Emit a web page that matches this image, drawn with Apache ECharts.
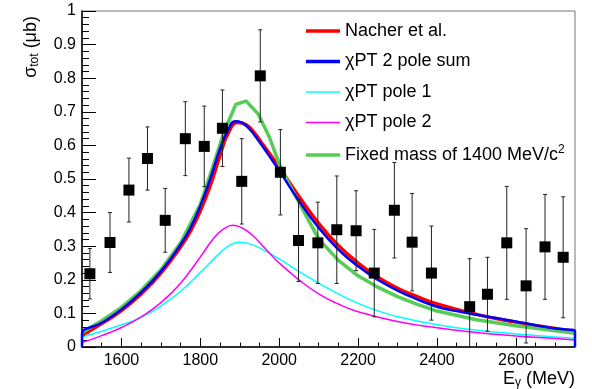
<!DOCTYPE html>
<html><head><meta charset="utf-8">
<script src="https://cdn.jsdelivr.net/npm/echarts@6/dist/echarts.min.js"></script>
<style>html,body{margin:0;padding:0;background:#fff}#c{width:592px;height:389px}</style>
</head><body><div id="c"></div>
<script>
// ---- data ----
const dataE   = [1520,1571,1619,1666,1711,1762,1810,1856,1905,1952,2003,2049,2098,2146,2195,2241,2292,2337,2386,2483,2528,2577,2626,2674,2720];
const dataY   = [0.218,0.311,0.467,0.561,0.377,0.620,0.597,0.651,0.493,0.807,0.520,0.317,0.310,0.349,0.346,0.220,0.407,0.312,0.220,0.120,0.157,0.310,0.182,0.298,0.267];
const dataErr = [0.075,0.089,0.095,0.094,0.095,0.110,0.120,0.114,0.127,0.137,0.127,0.122,0.121,0.160,0.119,0.130,0.142,0.145,0.140,0.143,0.110,0.168,0.170,0.156,0.180];

const nacherE = [1500,1550,1600,1650,1700,1750,1775,1800,1825,1850,1870,1895,1915,1935,1960,2000,2050,2100,2150,2200,2250,2300,2350,2400,2500,2600,2700,2750];
const nacherY = [0.035,0.070,0.108,0.158,0.220,0.298,0.345,0.405,0.480,0.570,0.635,0.668,0.662,0.640,0.600,0.535,0.448,0.368,0.302,0.250,0.208,0.175,0.150,0.128,0.097,0.074,0.055,0.046];

const sumE = [1500,1500,1550,1600,1650,1700,1750,1775,1800,1825,1850,1870,1889,1905,1925,1950,1975,2000,2050,2100,2150,2200,2250,2300,2350,2400,2450,2500,2550,2600,2650,2700,2750,2750];
const sumY = [0,0.038,0.072,0.112,0.163,0.225,0.305,0.355,0.420,0.500,0.590,0.645,0.672,0.668,0.648,0.610,0.568,0.525,0.435,0.355,0.290,0.240,0.200,0.168,0.142,0.120,0.107,0.096,0.086,0.076,0.065,0.055,0.046,0];

const pole1E = [1500,1550,1600,1650,1700,1750,1800,1850,1875,1899,1925,1950,2000,2050,2100,2150,2200,2250,2300,2400,2500,2600,2700,2750];
const pole1Y = [0.030,0.047,0.066,0.088,0.122,0.166,0.222,0.280,0.303,0.312,0.307,0.295,0.262,0.225,0.190,0.158,0.130,0.108,0.090,0.066,0.050,0.039,0.030,0.026];

const pole2E = [1500,1550,1600,1650,1700,1750,1800,1835,1860,1882,1905,1930,1967,2000,2050,2100,2150,2200,2300,2400,2500,2600,2700,2750];
const pole2Y = [0.013,0.034,0.058,0.090,0.132,0.190,0.268,0.325,0.352,0.362,0.355,0.335,0.290,0.250,0.200,0.158,0.128,0.105,0.076,0.057,0.043,0.033,0.025,0.021];

const fixedE = [1500,1550,1600,1650,1700,1750,1800,1830,1860,1890,1916,1947,1975,2000,2025,2050,2100,2150,2200,2250,2300,2350,2400,2500,2600,2700,2750];
const fixedY = [0.043,0.078,0.118,0.168,0.230,0.310,0.425,0.530,0.640,0.722,0.732,0.693,0.625,0.545,0.485,0.430,0.322,0.258,0.212,0.178,0.150,0.127,0.107,0.081,0.063,0.048,0.041];

const xMajorTicks = [1600,1800,2000,2200,2400,2600];
const legendNames = ['Nacher et al.','\u03c7PT 2 pole sum','\u03c7PT pole 1','\u03c7PT pole 2','Fixed mass of 1400 MeV/c{sup|2}'];

const zip = (a,b) => a.map((v,i)=>[v,b[i]]);
const FONT = 'Liberation Sans, Arial, Helvetica, sans-serif';

const chart = echarts.init(document.getElementById('c'), null, {renderer:'canvas'});
const grid = {left:82, right:17, top:11, bottom:42, show:true, borderColor:'#777', borderWidth:1};

function lineSeries(name, E, Y, color, width, z, smooth){
  return {name:name, type:'line', data:zip(E,Y), showSymbol:false, symbol:'none',
    smooth:smooth, lineStyle:{color:color,width:width,join:'round'}, itemStyle:{color:color}, z:z, silent:true, animation:false};
}
const thick = 'path://M0,0 L35,0 L35,3.5 L0,3.5 Z';
const thin  = 'path://M0,0 L35,0 L35,1.5 L0,1.5 Z';

chart.setOption({
  animation:false,
  grid: grid,
  xAxis: [
    {type:'value', min:1500, max:2750, position:'bottom',
     axisLine:{show:true,onZero:false,lineStyle:{color:'#000',width:1.5}},
     axisTick:{show:true,inside:true,length:9,customValues:xMajorTicks,lineStyle:{color:'#000',width:1}},
     axisLabel:{show:true,customValues:xMajorTicks,margin:6,fontSize:16,color:'#000',fontFamily:FONT,formatter:v=>String(v)},
     splitLine:{show:false}},
    {type:'value', min:1500, max:2750, interval:50, position:'bottom',
     axisLine:{show:false}, axisTick:{show:true,inside:true,length:4.5,lineStyle:{color:'#000'}},
     axisLabel:{show:false}, splitLine:{show:false}}
  ],
  yAxis: [{type:'value', min:0, max:1, interval:0.1,
     axisLine:{show:true,onZero:false,lineStyle:{color:'#000',width:1.5}},
     axisTick:{show:true,inside:true,length:14,lineStyle:{color:'#000'}},
     minorTick:{show:true,splitNumber:5,length:7,lineStyle:{color:'#000'}},
     axisLabel:{margin:6,fontSize:16,color:'#000',fontFamily:FONT,
       formatter:v=> (Math.abs(v)<1e-9?'0':(Math.abs(v-1)<1e-9?'1':v.toFixed(1)))},
     splitLine:{show:false}}],
  legend: {
    orient:'vertical', left:301, top:17, itemWidth:34, itemHeight:14, itemGap:12.5,
    textStyle:{fontSize:18,color:'#000',fontFamily:FONT, rich:{sup:{fontSize:12,verticalAlign:'top',padding:[0,0,10,0],fontFamily:FONT,color:'#000'}}},
    data: legendNames.map((n,i)=>({name:n, icon:(i===2||i===3)?thin:thick})),
    selectedMode:false
  },
  graphic: [
    {type:'text', x:31, y:16, rotation:Math.PI/2, z:100,
     style:{text:'\u03c3{s|tot} (\u03bcb)', font:'18px '+FONT, fill:'#000', align:'right', verticalAlign:'middle',
       rich:{s:{fontSize:12, fontFamily:FONT, fill:'#000', padding:[8,0,0,0]}}}},
    {type:'text', x:575, y:389, z:100,
     style:{text:'E{s|\u03b3} (MeV)', font:'18px '+FONT, fill:'#000', align:'right', verticalAlign:'bottom',
       rich:{s:{fontSize:12, fontFamily:FONT, fill:'#000', padding:[8,0,0,0]}}}}
  ],
  series: [
    lineSeries(legendNames[0], nacherE, nacherY, '#ff0000', 3.5, 3, true),
    lineSeries(legendNames[1], sumE, sumY, '#0000ff', 2.5, 4, true),
    lineSeries(legendNames[2], pole1E, pole1Y, '#00ffff', 1.5, 2, true),
    lineSeries(legendNames[3], pole2E, pole2Y, '#ff00ff', 1.5, 2, true),
    lineSeries(legendNames[4], fixedE, fixedY, '#55cc55', 3.5, 3, false),
    {type:'custom', name:'errors', data: dataE.map((e,i)=>[e,dataY[i],dataErr[i]]), z:5, silent:true,
     renderItem:function(params, api){
       const cs = params.coordSys;
       const x = api.coord([api.value(0),0])[0];
       let top = api.coord([api.value(0), api.value(1)+api.value(2)])[1];
       let bot = api.coord([api.value(0), api.value(1)-api.value(2)])[1];
       const yMin = cs.y, yMax = cs.y+cs.height;
       const capTop = top>=yMin, capBot = bot<=yMax;
       top = Math.max(top,yMin); bot = Math.min(bot,yMax);
       const st = {stroke:'#222', lineWidth:1};
       const ch = [{type:'line', shape:{x1:x,y1:top,x2:x,y2:bot}, style:st}];
       if(capTop) ch.push({type:'line', shape:{x1:x-2,y1:top,x2:x+2,y2:top}, style:st});
       if(capBot) ch.push({type:'line', shape:{x1:x-2,y1:bot,x2:x+2,y2:bot}, style:st});
       return {type:'group', children:ch};
     }},
    {type:'scatter', name:'data', data: zip(dataE,dataY), symbol:'rect', symbolSize:11, itemStyle:{color:'#000',opacity:1}, z:6, silent:true}
  ]
});
</script></body></html>
